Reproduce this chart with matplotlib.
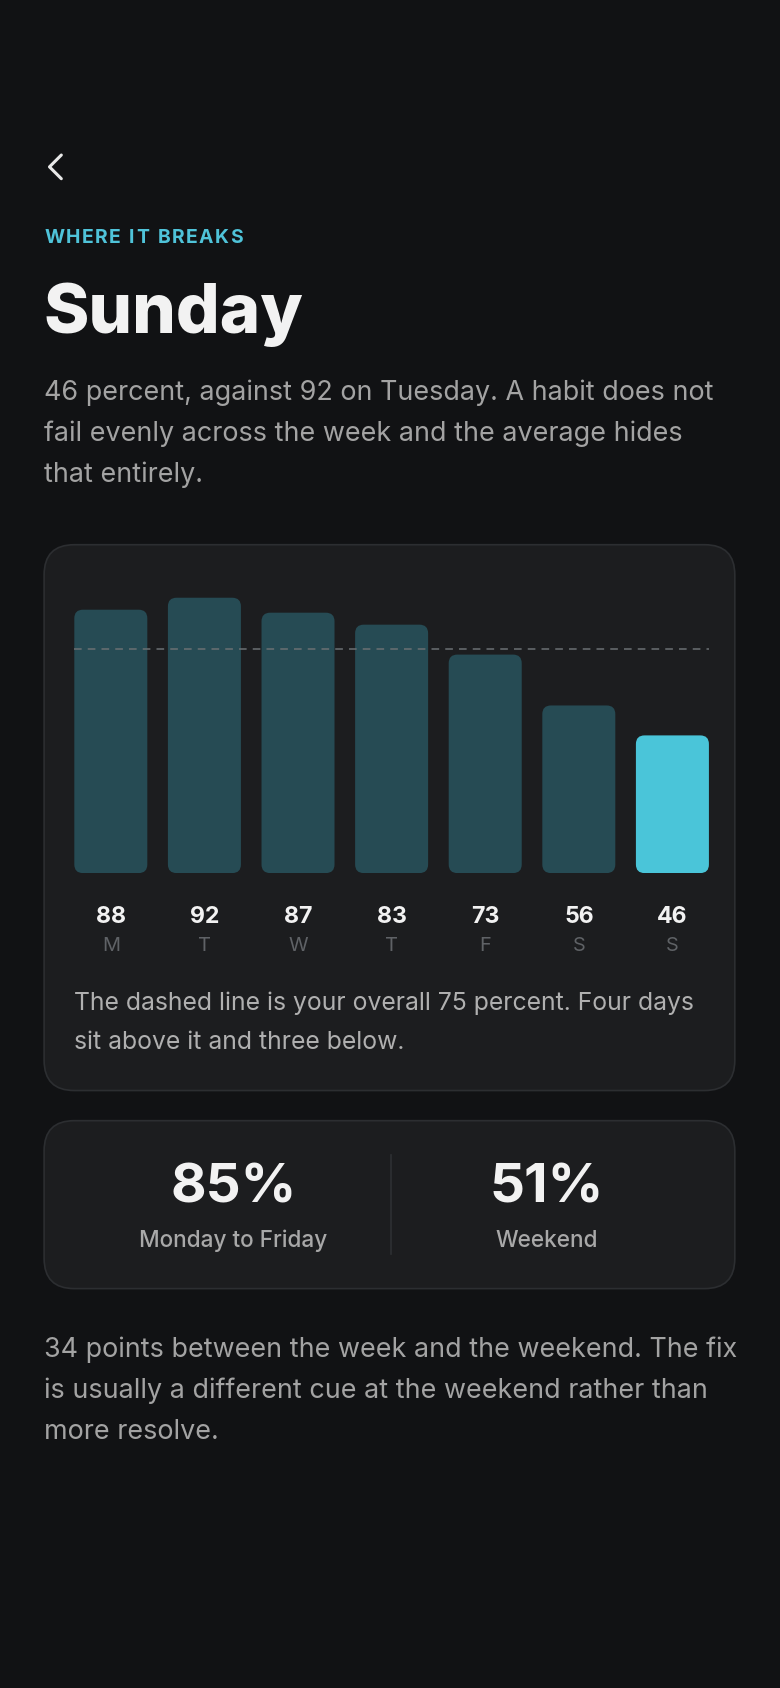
import matplotlib
matplotlib.use("Agg")
import matplotlib.pyplot as plt
from matplotlib.patches import FancyBboxPatch

plt.rcParams["font.family"] = ["Inter", "DejaVu Sans"]

days = ["M", "T", "W", "T", "F", "S", "S"]
rates = [88, 92, 87, 83, 73, 56, 46]
overall = 75
weekday_avg = 85
weekend_avg = 51

BG = "#111214"
CARD = "#1c1d1f"
EDGE = "#2c2e31"
BAR = "#264b54"
HIGHLIGHT = "#4ac5d9"

W, H = 725.0, 1568.0  # layout units (scaled to 780x1688 output)
S = 780 / 725.0


def pt(px):
    return px * S * 0.72


fig = plt.figure(figsize=(7.8, 16.88), dpi=100, facecolor=BG)
ax = fig.add_axes([0, 0, 1, 1])
ax.set_xlim(0, W)
ax.set_ylim(H, 0)
ax.axis("off")
ax.set_facecolor(BG)

# back chevron
ax.plot([57, 46, 57], [144, 155, 166], color="#e8e8e8", lw=2.2, solid_capstyle="round")

# header with letter spacing
fig.canvas.draw()
rend = fig.canvas.get_renderer()
x = 41
for ch in "WHERE IT BREAKS":
    t = ax.text(x, 221, ch, color="#4fc3d9", fontsize=pt(18), fontweight="bold", va="center")
    wpx = t.get_window_extent(rend).width if ch != " " else 5.5 * S
    x += wpx / S + 1.3

ax.text(40, 292, "Sunday", color="#f2f2f2", fontsize=pt(64), fontweight="heavy", va="center")
intro = ["46 percent, against 92 on Tuesday. A habit does not",
         "fail evenly across the week and the average hides",
         "that entirely."]
for i, line in enumerate(intro):
    ax.text(41, 365 + 38 * i, line, color="#a3a3a3", fontsize=pt(25), va="center")

# cards
for (x0, y0, x1, y1) in [(41, 506, 683, 1013), (41, 1041, 683, 1197)]:
    ax.add_patch(FancyBboxPatch((x0, y0), x1 - x0, y1 - y0,
                                boxstyle="round,pad=0,rounding_size=28",
                                fc=CARD, ec=EDGE, lw=1.2))

# bar chart axes: value 0 at y=811, value 100 at y=533
bx = fig.add_axes([59.5 / W, 1 - 811 / H, 609 / W, 278 / H])
bx.set_xlim(-0.5, 6.5)
bx.set_ylim(0, 100)
bx.axis("off")
bw = 0.78
for i, v in enumerate(rates):
    c = HIGHLIGHT if i == len(rates) - 1 else BAR
    bx.add_patch(FancyBboxPatch((i - bw / 2, 0), bw, v,
                                boxstyle="round,pad=0,rounding_size=0.092",
                                mutation_aspect=31.3, fc=c, ec="none"))
bx.plot([-bw / 2, 6 + bw / 2], [overall, overall], color="#6b7073", lw=1.1,
        dashes=(5, 4))

for i, (d, v) in enumerate(zip(days, rates)):
    xc = 103 + 87 * i
    ax.text(xc, 852, str(v), color="#f2f2f2", fontsize=pt(21.5), fontweight="bold",
            ha="center", va="center")
    ax.text(xc, 879, d, color="#5f6266", fontsize=pt(18.5), ha="center", va="center")

cap = ["The dashed line is your overall 75 percent. Four days",
         "sit above it and three below."]
for i, line in enumerate(cap):
    ax.text(69, 932 + 36 * i, line, color="#b0b0b0", fontsize=pt(23), va="center")

ax.plot([363, 363], [1073, 1165], color="#2e3033", lw=1.2)
for xc, val, lab in [(217, weekday_avg, "Monday to Friday"), (508, weekend_avg, "Weekend")]:
    ax.text(xc, 1104, f"{val}%", color="#f2f2f2", fontsize=pt(51), fontweight="bold",
            ha="center", va="center")
    ax.text(xc, 1153, lab, color="#a8a8a8", fontsize=pt(21), fontweight="medium",
            ha="center", va="center")

outro = ["34 points between the week and the weekend. The fix",
         "is usually a different cue at the weekend rather than",
         "more resolve."]
for i, line in enumerate(outro):
    ax.text(41, 1254 + 38 * i, line, color="#a3a3a3", fontsize=pt(25), va="center")

fig.savefig("out.png", dpi=100, facecolor=BG)
